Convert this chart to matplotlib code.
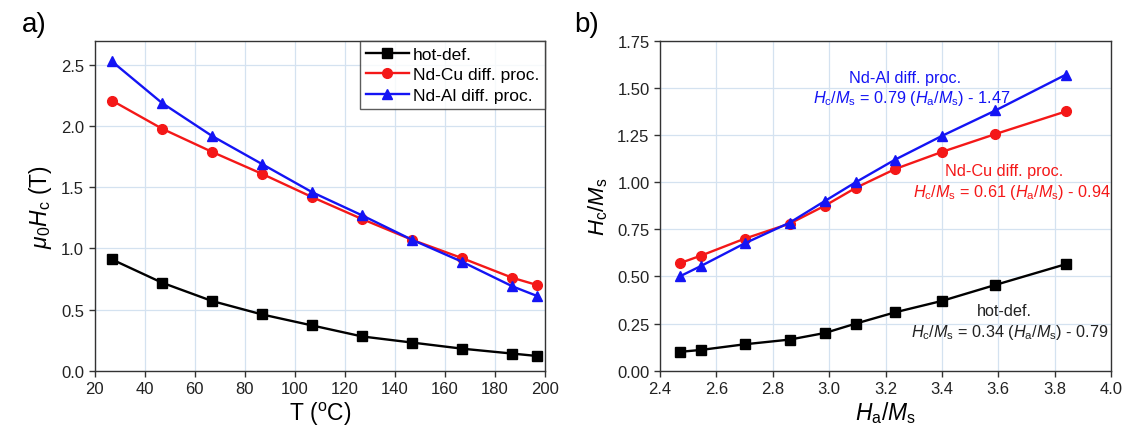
import matplotlib
matplotlib.use("Agg")
import matplotlib.pyplot as plt

plt.rcParams['font.family'] = ['Liberation Sans', 'DejaVu Sans']
plt.rcParams['mathtext.fontset'] = 'custom'
plt.rcParams['mathtext.rm'] = 'Liberation Sans'
plt.rcParams['mathtext.it'] = 'Liberation Sans:italic'
plt.rcParams['mathtext.bf'] = 'Liberation Sans:bold'

# Panel a data
temp = [27, 47, 67, 87, 107, 127, 147, 167, 187, 197]
hc_hot = [0.91, 0.72, 0.57, 0.46, 0.37, 0.28, 0.23, 0.18, 0.14, 0.12]
hc_cu = [2.21, 1.98, 1.79, 1.61, 1.42, 1.24, 1.07, 0.92, 0.76, 0.70]
hc_al = [2.53, 2.19, 1.92, 1.69, 1.46, 1.27, 1.07, 0.89, 0.69, 0.61]

# Panel b data
ha_ms = [2.47, 2.545, 2.70, 2.86, 2.985, 3.095, 3.235, 3.40, 3.59, 3.84]
r_hot = [0.10, 0.11, 0.14, 0.165, 0.20, 0.25, 0.31, 0.37, 0.455, 0.565]
r_cu = [0.57, 0.61, 0.70, 0.78, 0.875, 0.97, 1.07, 1.16, 1.255, 1.375]
r_al = [0.50, 0.555, 0.675, 0.785, 0.90, 1.00, 1.12, 1.245, 1.38, 1.57]

labels = ['hot-def.', 'Nd-Cu diff. proc.', 'Nd-Al diff. proc.']
colors = ['black', '#f41818', '#1414f4']
markers = ['s', 'o', '^']

W, H = 1125.0, 439.0
fig = plt.figure(figsize=(11.25, 4.39), dpi=100)
axa = fig.add_axes([94.5 / W, 1 - 371.7 / H, (545 - 94.5) / W, (371.7 - 41.7) / H])
axb = fig.add_axes([660 / W, 1 - 371.7 / H, (1111 - 660) / W, (371.7 - 41.7) / H])

grid_c = '#d4e2f0'
for ax in (axa, axb):
    ax.grid(True, color=grid_c, linewidth=0.9)
    ax.set_axisbelow(True)
    ax.tick_params(direction='out', length=4, width=1, labelsize=12, colors='#333333', labelcolor='#222222')
    for s in ax.spines.values():
        s.set_color('#333333')
        s.set_linewidth(1.0)

for y, c, m, l in zip([hc_hot, hc_cu, hc_al], colors, markers, labels):
    axa.plot(temp, y, color=c, marker=m, markersize=7, linewidth=1.7, label=l, clip_on=False)

axa.set_xlim(20, 200)
axa.set_ylim(0, 2.7)
axa.set_xticks(range(20, 201, 20))
axa.set_yticks([0.0, 0.5, 1.0, 1.5, 2.0, 2.5])
axa.set_yticklabels(['0.0', '0.5', '1.0', '1.5', '2.0', '2.5'])
axa.set_xlabel('T ($^\\mathrm{o}$C)', fontsize=16.5, labelpad=3)
axa.set_ylabel('$\\mu_0 H_\\mathrm{c}$ (T)', fontsize=16.5, labelpad=5)
leg = axa.legend(loc='upper right', fontsize=12.5, frameon=True, fancybox=False,
                 edgecolor='#333333', borderaxespad=0.0, handlelength=2.5,
                 handletextpad=0.2, labelspacing=0.3, borderpad=0.35)
leg.get_frame().set_linewidth(1.0)

for y, c, m in zip([r_hot, r_cu, r_al], colors, markers):
    axb.plot(ha_ms, y, color=c, marker=m, markersize=7, linewidth=1.7, clip_on=False)

axb.set_xlim(2.4, 4.0)
axb.set_ylim(0, 1.75)
axb.set_xticks([2.4, 2.6, 2.8, 3.0, 3.2, 3.4, 3.6, 3.8, 4.0])
axb.set_yticks([0.0, 0.25, 0.5, 0.75, 1.0, 1.25, 1.5, 1.75])
axb.set_yticklabels(['0.00', '0.25', '0.50', '0.75', '1.00', '1.25', '1.50', '1.75'])
axb.set_xlabel('$H_\\mathrm{a}/M_\\mathrm{s}$', fontsize=16.5, labelpad=2)
axb.set_ylabel('$H_\\mathrm{c}/M_\\mathrm{s}$', fontsize=16, labelpad=5)

fs = 11.7
axb.text(3.27, 1.555, 'Nd-Al diff. proc.', color=colors[2], fontsize=fs, ha='center', va='center')
axb.text(3.645, 1.448, '$H_\\mathrm{c}/M_\\mathrm{s}$ = 0.79 ($H_\\mathrm{a}/M_\\mathrm{s}$) - 1.47',
         color=colors[2], fontsize=fs, ha='right', va='center')
axb.text(3.62, 1.06, 'Nd-Cu diff. proc.', color=colors[1], fontsize=fs, ha='center', va='center')
axb.text(3.998, 0.95, '$H_\\mathrm{c}/M_\\mathrm{s}$ = 0.61 ($H_\\mathrm{a}/M_\\mathrm{s}$) - 0.94',
         color=colors[1], fontsize=fs, ha='right', va='center')
axb.text(3.62, 0.318, 'hot-def.', color='#222222', fontsize=fs, ha='center', va='center')
axb.text(3.99, 0.207, '$H_\\mathrm{c}/M_\\mathrm{s}$ = 0.34 ($H_\\mathrm{a}/M_\\mathrm{s}$) - 0.79',
         color='#222222', fontsize=fs, ha='right', va='center')

fig.text(0.0196, 0.943, 'a)', fontsize=20, ha='left', va='center')
fig.text(0.510, 0.943, 'b)', fontsize=20, ha='left', va='center')

fig.savefig('out.png', dpi=100)
